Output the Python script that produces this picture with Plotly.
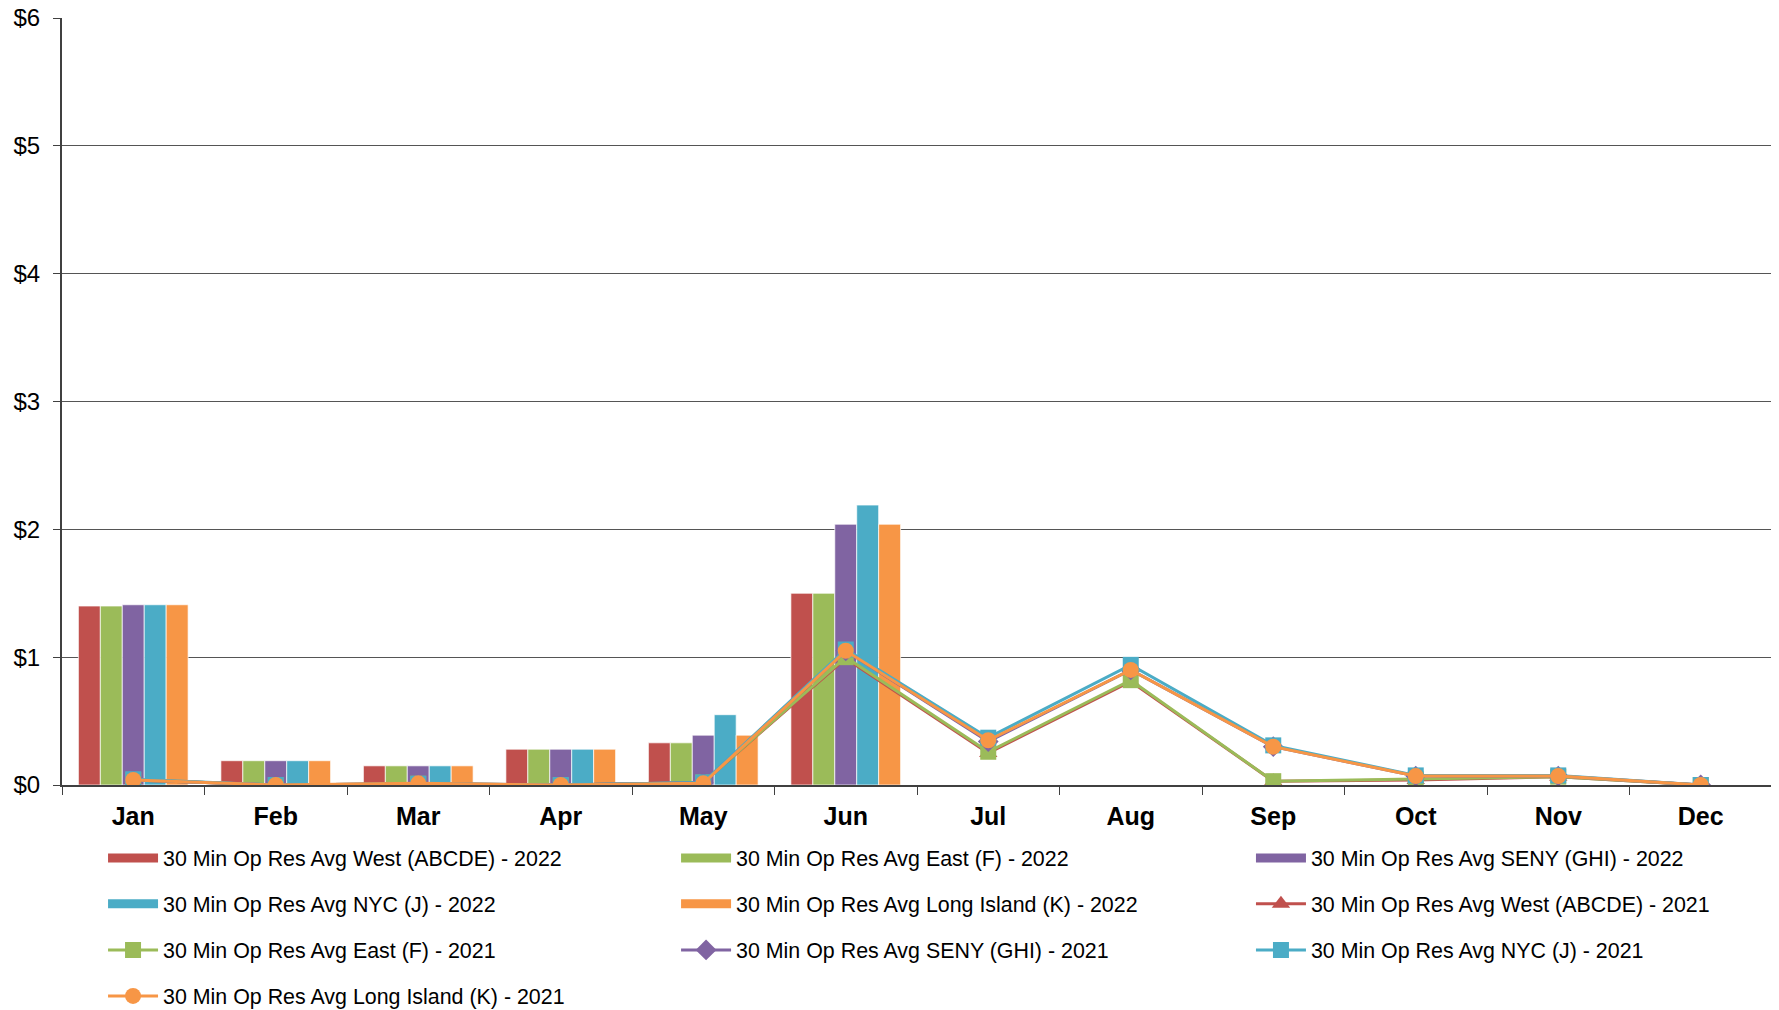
import plotly.graph_objects as go

# month categories
months = ["Jan", "Feb", "Mar", "Apr", "May", "Jun", "Jul", "Aug", "Sep", "Oct", "Nov", "Dec"]
months_2022 = months[:6]

# 2022 monthly averages ($/MW) - bars
west_2022 = [1.40, 0.19, 0.15, 0.28, 0.33, 1.50]
east_2022 = [1.40, 0.19, 0.15, 0.28, 0.33, 1.50]
seny_2022 = [1.41, 0.19, 0.15, 0.28, 0.39, 2.04]
nyc_2022 = [1.41, 0.19, 0.15, 0.28, 0.55, 2.19]
li_2022 = [1.41, 0.19, 0.15, 0.28, 0.39, 2.04]

# 2021 monthly averages - lines
west_2021 = [0.04, 0.00, 0.01, 0.00, 0.02, 0.99, 0.25, 0.81, 0.03, 0.04, 0.065, 0.00]
east_2021 = [0.04, 0.00, 0.01, 0.00, 0.02, 1.00, 0.26, 0.82, 0.03, 0.045, 0.065, 0.00]
seny_2021 = [0.04, 0.00, 0.01, 0.00, 0.02, 1.05, 0.34, 0.90, 0.30, 0.07, 0.07, 0.00]
nyc_2021 = [0.045, 0.00, 0.01, 0.00, 0.02, 1.06, 0.37, 0.94, 0.31, 0.075, 0.075, 0.00]
li_2021 = [0.04, 0.00, 0.013, 0.00, 0.013, 1.05, 0.35, 0.90, 0.30, 0.07, 0.07, 0.00]

RED, GREEN, PURPLE, CYAN, ORANGE = "#C0504D", "#9BBB59", "#8064A2", "#4BACC6", "#F79646"
FONT = "Liberation Sans, Arial, sans-serif"

# legend grid: 3 columns, 4 rows (one small legend per entry)
LEG_X = [0.024, 0.3591, 0.6953]
LEG_Y = [-0.0952, -0.1551, -0.2151, -0.2751]

fig = go.Figure()

bars = [
    ("30 Min Op Res Avg West (ABCDE) - 2022", west_2022, RED),
    ("30 Min Op Res Avg East (F) - 2022", east_2022, GREEN),
    ("30 Min Op Res Avg SENY (GHI) - 2022", seny_2022, PURPLE),
    ("30 Min Op Res Avg NYC (J) - 2022", nyc_2022, CYAN),
    ("30 Min Op Res Avg Long Island (K) - 2022", li_2022, ORANGE),
]
lines = [
    ("30 Min Op Res Avg West (ABCDE) - 2021", west_2021, RED, "triangle-up"),
    ("30 Min Op Res Avg East (F) - 2021", east_2021, GREEN, "square"),
    ("30 Min Op Res Avg SENY (GHI) - 2021", seny_2021, PURPLE, "diamond"),
    ("30 Min Op Res Avg NYC (J) - 2021", nyc_2021, CYAN, "square"),
    ("30 Min Op Res Avg Long Island (K) - 2021", li_2021, ORANGE, "circle"),
]

def leg_name(k):
    return "legend" if k == 0 else f"legend{k + 1}"

k = 0
for i, (name, vals, col) in enumerate(bars):
    fig.add_trace(go.Bar(x=months_2022, y=vals, name=name, marker_color=col,
                         marker_line=dict(color="rgba(255,255,255,0.7)", width=1),
                         showlegend=False, legendgroup=f"b{i}"))
    # wide swatch for the legend, like the original
    fig.add_trace(go.Scatter(x=[None], y=[None], mode="lines", name=name,
                             line=dict(color=col, width=9), legendgroup=f"b{i}",
                             legend=leg_name(k)))
    k += 1

for name, vals, col, sym in lines:
    fig.add_trace(go.Scatter(x=months, y=vals, name=name, mode="lines+markers",
                             line=dict(color=col, width=3),
                             marker=dict(symbol=sym, size=16, color=col),
                             legend=leg_name(k)))
    k += 1

legends = {}
for j in range(k):
    legends[leg_name(j)] = dict(orientation="h", xanchor="left", yanchor="middle",
                                x=LEG_X[j % 3], y=LEG_Y[j // 3], itemwidth=50,
                                font=dict(family=FONT, size=21.4, color="#000"),
                                bgcolor="rgba(0,0,0,0)")

# page body adds an 8px offset, so the figure is 8px smaller and margins trimmed
fig.update_layout(
    width=1771, height=1002,
    margin=dict(l=54, r=7, t=10, b=225, autoexpand=False),
    plot_bgcolor="white", paper_bgcolor="white",
    barmode="group", bargap=0.23, bargroupgap=0,
    font=dict(family=FONT, color="#000"),
    xaxis=dict(categoryorder="array", categoryarray=months, range=[-0.5, 11.5],
               showline=True, linecolor="#404040", linewidth=2, automargin=False,
               ticks="outside", tickson="boundaries", ticklen=8, tickcolor="#404040",
               ticklabelstandoff=8,
               tickfont=dict(family=FONT, size=25, color="#000"), showgrid=False),
    yaxis=dict(range=[0, 6], dtick=1, tickprefix="$", showline=True, linecolor="#404040",
               linewidth=2, ticks="outside", ticklen=7, tickcolor="#404040", automargin=False,
               ticklabelstandoff=8, ticklabeloverflow="allow",
               tickfont=dict(family=FONT, size=24, color="#000"),
               showgrid=True, gridcolor="#555", gridwidth=1, zeroline=False),
    shapes=[dict(type="line", xref="paper", yref="paper", x0=1, x1=1, y0=0, y1=1,
                 line=dict(color="#888", width=2))],
    **legends,
)

fig.update_xaxes(tickvals=months, ticktext=[f"<b>{m}</b>" for m in months])

fig.write_html("out.html")
